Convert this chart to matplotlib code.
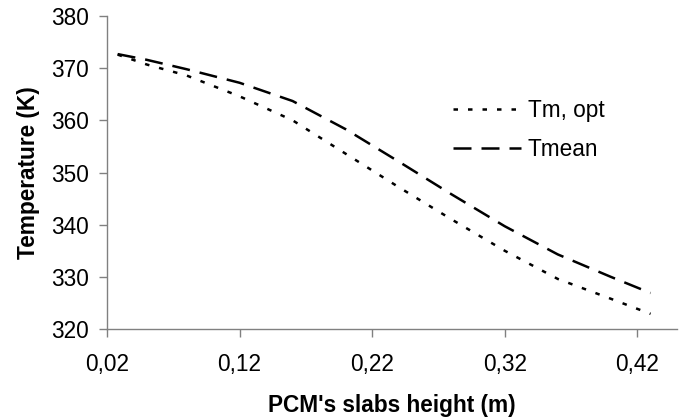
import matplotlib
matplotlib.use("Agg")
import matplotlib.pyplot as plt
from matplotlib.ticker import FuncFormatter

plt.rcParams['font.family'] = ['Liberation Sans', 'DejaVu Sans']

# slab height (m) and temperatures (K)
height = [0.028, 0.05, 0.08, 0.12, 0.16, 0.20, 0.24, 0.28, 0.32, 0.36, 0.40, 0.43]
t_opt = [372.6, 370.7, 368.6, 364.6, 360.0, 353.6, 347.2, 341.0, 335.0, 329.6, 325.8, 322.9]
t_mean = [372.7, 371.6, 369.8, 367.2, 363.7, 358.3, 352.1, 345.8, 339.7, 334.3, 330.0, 326.9]

x_ticks = [0.02, 0.12, 0.22, 0.32, 0.42]
y_ticks = [320, 330, 340, 350, 360, 370, 380]

fs = 16.3
axis_grey = '#808080'

fig = plt.figure(figsize=(6.83, 4.19), dpi=100)
ax = fig.add_axes([0.1567, 0.2148, 0.8346, 0.747])

ax.plot(height, t_opt, color='black', lw=1.8, dashes=(1.8, 4.0), label='Tm, opt')
ax.plot(height, t_mean, color='black', lw=1.8, dashes=(7.2, 4.0), label='Tmean')

ax.set_xlim(0.02, 0.45)
ax.set_ylim(320, 380)
ax.set_xticks(x_ticks)
ax.set_yticks(y_ticks)
ax.xaxis.set_major_formatter(FuncFormatter(lambda v, p: f"{v:.2f}".replace('.', ',')))

for side in ['top', 'right']:
    ax.spines[side].set_visible(False)
for side in ['left', 'bottom']:
    ax.spines[side].set_color(axis_grey)
    ax.spines[side].set_linewidth(1.0)

ax.tick_params(axis='both', direction='out', length=6, width=1.0,
               color=axis_grey, labelsize=fs, labelcolor='black')
ax.tick_params(axis='x', pad=11)
ax.tick_params(axis='y', pad=7)

ax.set_xlabel("PCM's slabs height (m)", fontsize=fs, fontweight='bold')
ax.set_ylabel("Temperature (K)", fontsize=fs, fontweight='bold')
ax.xaxis.set_label_coords(0.5, -0.207)
ax.yaxis.set_label_coords(-0.118, 0.5)

ax.legend(loc='center left', bbox_to_anchor=(453 / 683, 1 - 130 / 419),
          bbox_transform=fig.transFigure, frameon=False, fontsize=fs,
          borderpad=0, borderaxespad=0, handlelength=3.0, handletextpad=0.3,
          labelspacing=0.7)

fig.savefig("out.png", dpi=100)
